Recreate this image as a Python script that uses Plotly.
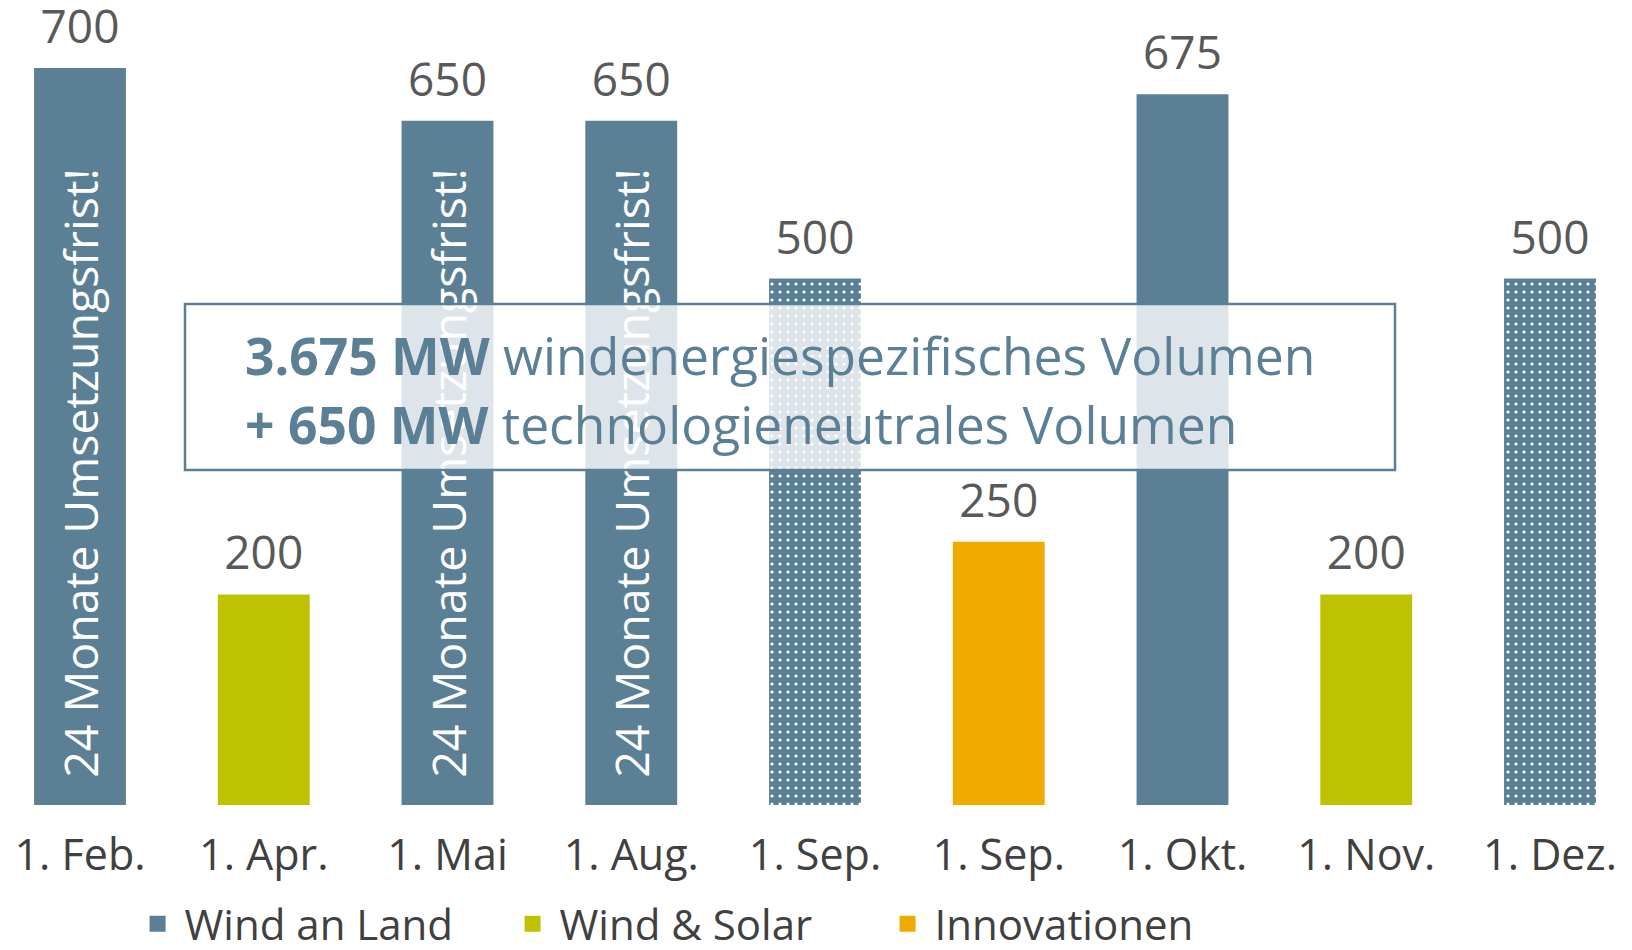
import plotly.graph_objects as go

# ---- data ----
dates = ["1. Feb.", "1. Apr.", "1. Mai", "1. Aug.", "1. Sep.", "1. Sep.", "1. Okt.", "1. Nov.", "1. Dez."]
series = ["Wind an Land", "Wind & Solar", "Wind an Land", "Wind an Land", "Wind an Land",
          "Innovationen", "Wind an Land", "Wind & Solar", "Wind an Land"]
values = [700, 200, 650, 650, 500, 250, 675, 200, 500]
neutral = [False, False, False, False, True, False, False, False, True]  # dotted bars
notes = ["24 Monate Umsetzungsfrist!", "", "24 Monate Umsetzungsfrist!", "24 Monate Umsetzungsfrist!",
         "", "", "", "", ""]
legend_order = ["Wind an Land", "Wind & Solar", "Innovationen"]
colors = {"Wind an Land": "#5B7F95", "Wind & Solar": "#BFC200", "Innovationen": "#F0AB00"}
box_lines = ["<b>3.675 MW</b> windenergiespezifisches Volumen",
             "<b>+ 650 MW</b> technologieneutrales Volumen"]

FONT = "Open Sans"
W, H = 1632, 950
OFF = 8  # page body margin
px_per_cat = 183.75
x0 = -(80 - OFF) / px_per_cat
x1 = x0 + W / px_per_cat
plot_bottom = 805 - OFF
px_per_unit = 737 / 700
y_top = plot_bottom / px_per_unit


def xd(page_px):
    return (page_px - OFF) / px_per_cat + x0


def yd(page_py):
    return (plot_bottom - (page_py - OFF)) / px_per_unit


fig = go.Figure()
for s in legend_order:
    idx = [i for i, v in enumerate(series) if v == s]
    fig.add_trace(go.Bar(
        name=s,
        x=idx,
        y=[values[i] for i in idx],
        width=0.5,
        marker=dict(
            color=colors[s],
            line=dict(width=0),
            pattern=dict(
                shape=["." if neutral[i] else "" for i in idx],
                fgcolor="white",
                bgcolor=colors[s],
                fillmode="replace",
                size=8,
                solidity=0.12,
            ),
        ),
        text=["\u00a0\u00a0" + notes[i] if notes[i] else "" for i in idx],
        textposition="inside",
        insidetextanchor="start",
        textangle=-90,
        textfont=dict(family=FONT, size=46.5, color="white"),
        constraintext="none",
        hoverinfo="skip",
        showlegend=False,
    ))

# legend entries (square markers)
for s in legend_order:
    fig.add_trace(go.Scatter(
        name="\u2009" + s, x=[None], y=[None], mode="markers",
        marker=dict(symbol="square", size=20, color=colors[s]),
        showlegend=True, hoverinfo="skip",
    ))

# value labels
fig.add_trace(go.Scatter(
    x=list(range(len(values))),
    y=values,
    mode="markers+text",
    marker=dict(size=20, opacity=0),
    text=[str(v) for v in values],
    textposition="top center",
    textfont=dict(family=FONT, size=46, color="#595959"),
    cliponaxis=False,
    showlegend=False,
    hoverinfo="skip",
))

# info box
fig.add_shape(type="rect", xref="x", yref="y",
              x0=xd(185), x1=xd(1395), y0=yd(470), y1=yd(304),
              line=dict(color="#5B7F95", width=2.5),
              fillcolor="rgba(255,255,255,0.8)", layer="above")
for line, py in zip(box_lines, [355, 424]):
    fig.add_annotation(x=xd(243), y=yd(py), xref="x", yref="y",
                       text=line, showarrow=False, xanchor="left", yanchor="middle",
                       font=dict(family=FONT, size=51.6, color="#5B7F95"))

fig.update_layout(
    width=W, height=H,
    margin=dict(l=0, r=0, t=0, b=H - plot_bottom),
    barmode="overlay",
    plot_bgcolor="white", paper_bgcolor="white",
    font=dict(family=FONT, color="#404040"),
    showlegend=True,
    legend=dict(orientation="h", x=0.0794, xanchor="left",
                y=(plot_bottom - 950) / plot_bottom, yanchor="bottom",
                font=dict(family=FONT, size=42, color="#404040"),
                entrywidth=330, entrywidthmode="pixels", traceorder="normal",
                itemsizing="trace"),
    xaxis=dict(range=[x0, x1], tickvals=list(range(len(dates))), ticktext=dates,
               showgrid=False, zeroline=False, showline=False, ticks="",
               tickfont=dict(family=FONT, size=43, color="#404040"), ticklabelstandoff=21,
               fixedrange=True),
    yaxis=dict(range=[0, y_top], visible=False, fixedrange=True),
)

fig.write_html("out.html")
